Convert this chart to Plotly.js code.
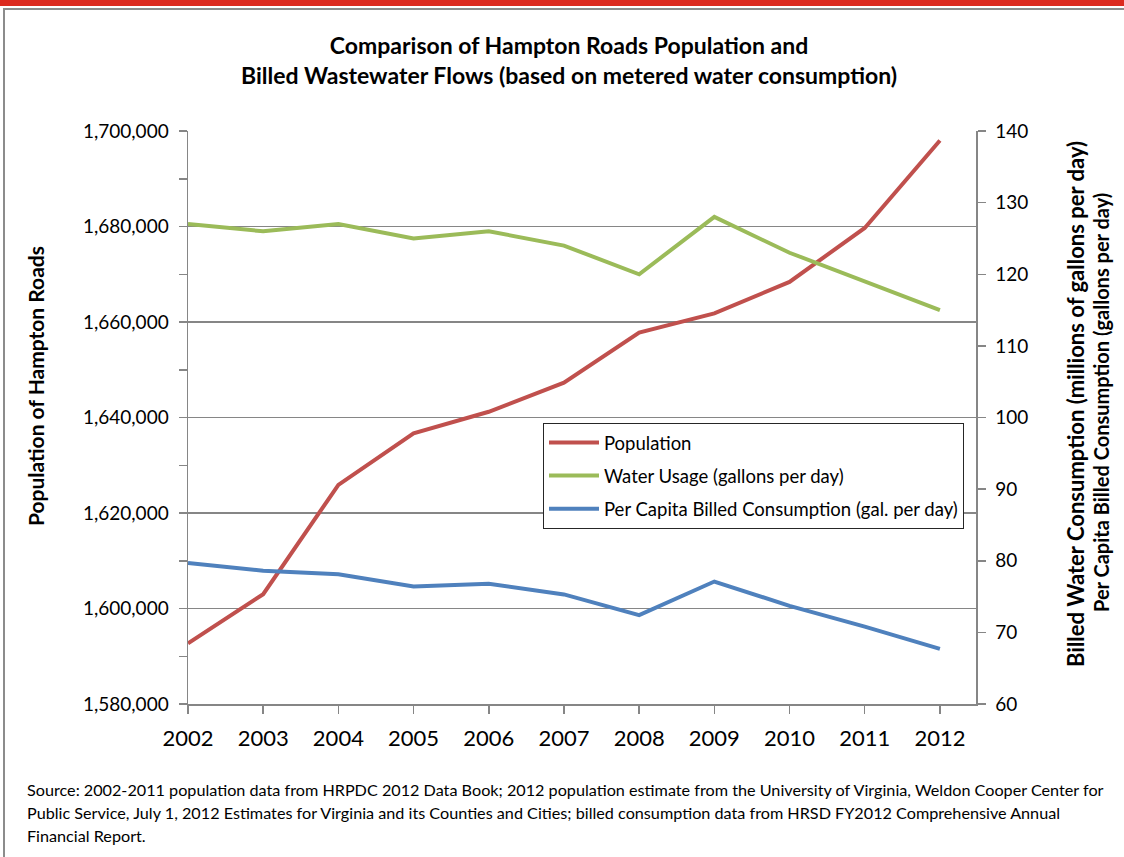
<!DOCTYPE html>
<html><head><meta charset="utf-8">
<script src="https://cdn.plot.ly/plotly-3.0.1.min.js"></script>
<style>
html,body{margin:0;padding:0;background:#fff;width:1124px;height:857px;overflow:hidden;}
#bar{position:absolute;left:0;top:0;width:1124px;height:6px;background:#DC2A1F;}
#frame{position:absolute;left:3px;top:8px;width:1121px;height:860px;border-left:2px solid #8c8c8c;border-top:2px solid #8c8c8c;box-sizing:border-box;}
#chart{position:absolute;left:0;top:0;width:1124px;height:857px;}
</style></head><body>
<div id="bar"></div><div id="frame"></div><div id="chart"></div>
<script>
var years = [2002, 2003, 2004, 2005, 2006, 2007, 2008, 2009, 2010, 2011, 2012];
var yearLabels = ["2002","2003","2004","2005","2006","2007","2008","2009","2010","2011","2012"];
var population = [1592700, 1603000, 1625900, 1636700, 1641200, 1647300, 1657800, 1661800, 1668400, 1679700, 1698000];
var waterUsage = [127, 126, 127, 125, 126, 124, 120, 128, 123, 119, 115];
var perCapita = [79.7, 78.6, 78.1, 76.4, 76.8, 75.3, 72.4, 77.1, 73.7, 70.8, 67.7];
var seriesNames = ["Population", "Water Usage (gallons per day)", "Per Capita Billed Consumption (gal. per day)"];
var titleLines = ["Comparison of Hampton Roads Population and", "Billed Wastewater Flows (based on metered water consumption)"];
var leftTitle = "Population of Hampton Roads";
var rightTitles = ["Billed Water Consumption (millions of gallons per day)", "Per Capita Billed Consumption (gallons per day)"];
var sourceLines = [
  "Source: 2002-2011 population data from HRPDC 2012 Data Book; 2012 population estimate from the University of Virginia, Weldon Cooper Center for",
  "Public Service, July 1, 2012 Estimates for Virginia and its Counties and Cities; billed consumption data from HRSD FY2012 Comprehensive Annual",
  "Financial Report."
];

var FONT = "Lato, 'Open Sans', sans-serif";
var AX = "#868686";

var traces = [
  {x: years, y: population, yaxis: "y", name: seriesNames[0], mode: "lines", legendgroup: "a",
   line: {color: "#C0504D", width: 4}},
  {x: years, y: waterUsage, yaxis: "y2", name: seriesNames[1], mode: "lines", legendgroup: "b",
   line: {color: "#9BBB59", width: 4}},
  {x: years, y: perCapita, yaxis: "y2", name: seriesNames[2], mode: "lines", legendgroup: "c",
   line: {color: "#4F81BD", width: 4}}
];

var L = 188, R = 976, T = 131, B = 704, W = 1124, H = 857;
function px(x){ return (x - L) / (R - L); }
function py(y){ return (B - y) / (B - T); }

var annotations = [];
annotations.push({xref: "paper", yref: "paper", x: px(35), y: py(386), xanchor: "center", yanchor: "middle",
  text: "<b>" + leftTitle + "</b>", textangle: -90, showarrow: false, font: {family: FONT, size: 21, color: "#000"}});
annotations.push({xref: "paper", yref: "paper", x: px(1075), y: py(404), xanchor: "center", yanchor: "middle",
  text: "<b>" + rightTitles[0] + "</b>", textangle: -90, showarrow: false, font: {family: FONT, size: 22, color: "#000"}});
annotations.push({xref: "paper", yref: "paper", x: px(1101), y: py(403), xanchor: "center", yanchor: "middle",
  text: "<b>" + rightTitles[1] + "</b>", textangle: -90, showarrow: false, font: {family: FONT, size: 20, color: "#000"}});
var srcY = [789, 812, 835];
for (var i = 0; i < sourceLines.length; i++) {
  annotations.push({xref: "paper", yref: "paper", x: px(25), y: py(srcY[i]), xanchor: "left", yanchor: "middle",
    text: sourceLines[i], showarrow: false, align: "left", font: {family: FONT, size: 16.2, color: "#000"}});
}
annotations.push({xref: "paper", yref: "paper", x: px(569), y: py(75), xanchor: "center", yanchor: "middle",
  text: "<b>" + titleLines[1] + "</b>", showarrow: false, font: {family: FONT, size: 23, color: "#000"}});

var layout = {
  width: W, height: H,
  margin: {l: L, r: W - R, t: T, b: H - B, pad: 0},
  paper_bgcolor: "rgba(0,0,0,0)", plot_bgcolor: "rgba(0,0,0,0)",
  font: {family: FONT, color: "#000"},
  title: {text: "<b>" + titleLines[0] + "</b>", x: 569 / W, xanchor: "center", xref: "container",
          y: 1 - 46 / H, yanchor: "middle", yref: "container",
          font: {family: FONT, size: 23, color: "#000"}},
  showlegend: true,
  legend: {x: px(543), y: py(423), xanchor: "left", yanchor: "top", bgcolor: "#fff",
           bordercolor: "#262626", borderwidth: 1, font: {family: FONT, size: 18.5, color: "#000"},
           traceorder: "grouped", tracegroupgap: 6, itemwidth: 50},
  xaxis: {range: [2002, 2012.48], tickmode: "array", tickvals: years, ticktext: yearLabels,
          ticks: "outside", ticklen: 8, tickcolor: AX, tickwidth: 1.5, showline: true, linecolor: AX, linewidth: 1.5,
          showgrid: false, zeroline: false, tickfont: {family: FONT, size: 22, color: "#000"}, ticklabelstandoff: 6},
  yaxis: {range: [1580000, 1700000], dtick: 20000, tick0: 1580000, tickformat: ",d", separatethousands: true,
          ticks: "outside", ticklen: 8, tickcolor: AX, tickwidth: 1.5,
          minor: {dtick: 10000, tick0: 1580000, ticks: "outside", ticklen: 8, tickcolor: AX, tickwidth: 1.5, showgrid: false},
          showgrid: true, gridcolor: AX, gridwidth: 1.2, showline: true, linecolor: AX, linewidth: 1.5, zeroline: false,
          tickfont: {family: FONT, size: 19, color: "#000"}, ticklabelstandoff: 6},
  yaxis2: {overlaying: "y", side: "right", range: [60, 140], dtick: 10, tick0: 60,
           ticks: "outside", ticklen: 8, tickcolor: AX, tickwidth: 1.5, showline: true, linecolor: AX, linewidth: 1.5,
           showgrid: false, zeroline: false, tickfont: {family: FONT, size: 19, color: "#000"}, ticklabelstandoff: 6},
  annotations: annotations
};

Plotly.newPlot("chart", traces, layout, {displayModeBar: false, staticPlot: true});
</script>
</body></html>
